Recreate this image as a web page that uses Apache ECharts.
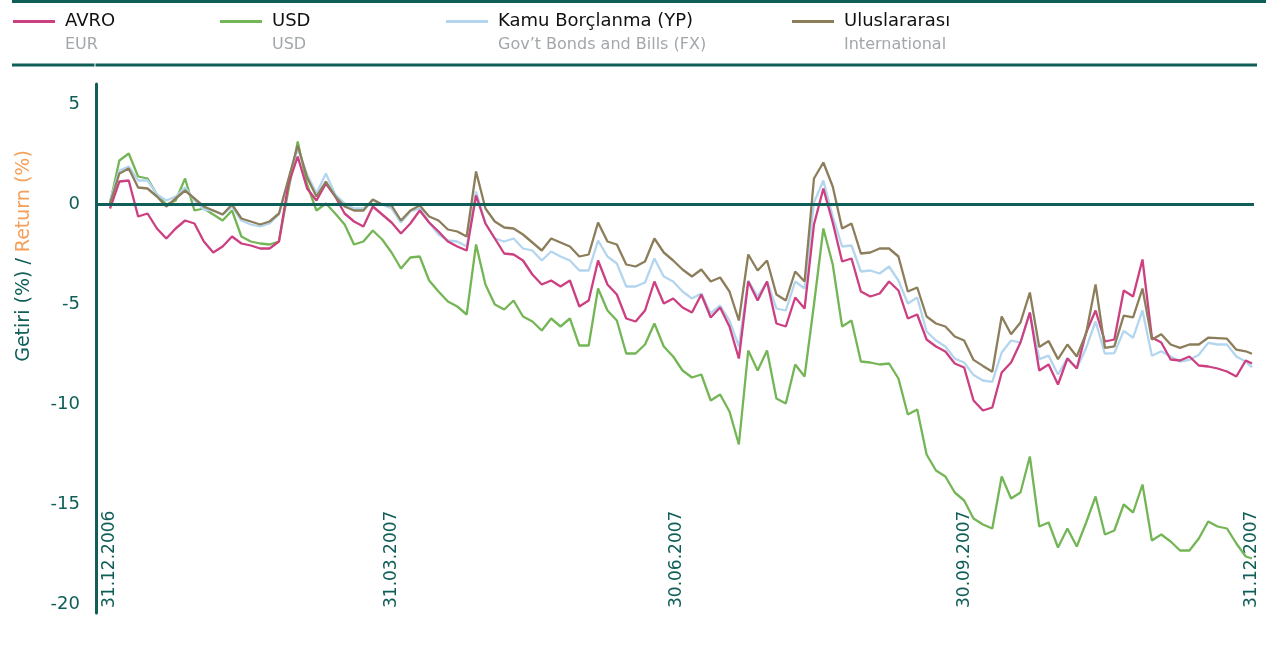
<!DOCTYPE html>
<html><head><meta charset="utf-8">
<script src="https://cdn.jsdelivr.net/npm/echarts@6/dist/echarts.min.js"></script>
<style>html,body{margin:0;padding:0;background:#fff}#c{width:1266px;height:648px}</style>
</head><body><div id="c"></div>
<script>
// ---- data ----
const seriesNames = ['AVRO', 'USD', 'Kamu Borçlanma (YP)', 'Uluslararası'];
const seriesSubtitles = ['EUR', 'USD', 'Gov\u2019t Bonds and Bills (FX)', 'International'];
const dateLabels = ['31.12.2006', '31.03.2007', '30.06.2007', '30.09.2007', '31.12.2007'];
const yTicks = [-20, -15, -10, -5, 0, 5];
const startDate = '31.12.2006';
const stepDays = 3;     // values sampled every 3 days, last value on 31.12.2007
const lastDay = 365;

const AVRO = [-0.2,1.15,1.2,-0.6,-0.45,-1.2,-1.7,-1.2,-0.8,-0.95,
-1.85,-2.4,-2.1,-1.6,-1.95,-2.05,-2.2,-2.2,-1.85,1.0,
2.4,0.8,0.2,1.05,0.4,-0.45,-0.85,-1.1,-0.1,-0.5,
-0.9,-1.45,-0.95,-0.3,-0.9,-1.35,-1.85,-2.1,-2.3,0.45,
-0.95,-1.7,-2.45,-2.5,-2.8,-3.5,-4.0,-3.8,-4.1,-3.8,
-5.1,-4.8,-2.8,-4.0,-4.5,-5.7,-5.85,-5.3,-3.85,-4.95,
-4.7,-5.15,-5.4,-4.5,-5.65,-5.15,-6.1,-7.7,-3.85,-4.8,
-3.85,-5.95,-6.1,-4.65,-5.2,-1.0,0.8,-0.9,-2.85,-2.7,
-4.35,-4.6,-4.45,-3.85,-4.3,-5.7,-5.5,-6.75,-7.1,-7.35,
-7.95,-8.15,-9.8,-10.3,-10.15,-8.4,-7.9,-6.9,-5.4,-8.3,
-8.0,-9.0,-7.7,-8.2,-6.4,-5.3,-6.85,-6.75,-4.3,-4.6,
-2.75,-6.65,-6.9,-7.75,-7.8,-7.6,-8.05,-8.1,-8.2,-8.35,
-8.6,-7.8,-7.95];

const USD = [0.05,2.2,2.55,1.4,1.3,0.5,0.0,0.2,1.3,-0.3,
-0.2,-0.5,-0.8,-0.3,-1.6,-1.85,-1.95,-2.0,-1.85,0.7,
3.15,1.0,-0.3,0.05,-0.45,-1.0,-2.0,-1.85,-1.3,-1.75,
-2.4,-3.2,-2.65,-2.6,-3.8,-4.35,-4.85,-5.1,-5.5,-2.0,
-4.0,-5.0,-5.25,-4.8,-5.6,-5.85,-6.3,-5.7,-6.1,-5.7,
-7.05,-7.05,-4.2,-5.3,-5.8,-7.45,-7.45,-7.0,-5.95,-7.1,
-7.6,-8.3,-8.65,-8.5,-9.8,-9.5,-10.35,-12.0,-7.3,-8.3,
-7.3,-9.7,-9.95,-8.0,-8.6,-5.0,-1.2,-3.0,-6.1,-5.8,
-7.85,-7.9,-8.0,-7.95,-8.7,-10.5,-10.25,-12.5,-13.3,-13.6,
-14.4,-14.8,-15.7,-16.0,-16.2,-13.6,-14.7,-14.4,-12.6,-16.1,
-15.9,-17.15,-16.2,-17.1,-15.9,-14.6,-16.5,-16.3,-15.0,-15.4,
-14.0,-16.8,-16.5,-16.85,-17.3,-17.3,-16.7,-15.85,-16.1,-16.2,
-16.95,-17.6,-17.7];

const KAMU = [0.2,1.7,1.9,1.2,1.2,0.5,0.2,0.4,0.85,0.2,
-0.25,-0.3,-0.5,-0.1,-0.8,-1.0,-1.1,-0.95,-0.5,1.2,
2.8,1.5,0.55,1.55,0.5,0.05,-0.2,-0.2,0.2,0.0,
-0.2,-0.9,-0.35,-0.2,-0.9,-1.5,-1.8,-1.85,-2.1,0.65,
-0.95,-1.7,-1.85,-1.7,-2.2,-2.3,-2.8,-2.35,-2.6,-2.8,
-3.3,-3.3,-1.8,-2.6,-2.95,-4.1,-4.1,-3.9,-2.7,-3.6,
-3.85,-4.35,-4.7,-4.45,-5.45,-5.05,-5.8,-7.1,-3.8,-4.6,
-3.85,-5.2,-5.3,-3.85,-4.2,0.1,1.2,-0.6,-2.1,-2.05,
-3.35,-3.3,-3.45,-3.1,-3.8,-4.95,-4.65,-6.35,-6.8,-7.1,
-7.7,-7.9,-8.53,-8.8,-8.87,-7.4,-6.8,-6.9,-5.4,-7.73,
-7.56,-8.5,-7.68,-8.19,-7.17,-5.85,-7.46,-7.43,-6.32,-6.66,
-5.3,-7.56,-7.34,-7.6,-7.85,-7.77,-7.51,-6.92,-7.0,-7.0,
-7.6,-7.85,-8.14];

const ULUSLARARASI = [0.05,1.55,1.8,0.85,0.8,0.4,-0.1,0.3,0.7,0.3,
-0.1,-0.3,-0.5,0.0,-0.7,-0.85,-1.0,-0.85,-0.45,1.25,
2.95,1.35,0.4,1.15,0.4,-0.1,-0.3,-0.3,0.25,0.0,
-0.05,-0.8,-0.3,-0.05,-0.6,-0.8,-1.25,-1.35,-1.6,1.65,
-0.2,-0.85,-1.15,-1.2,-1.5,-1.9,-2.3,-1.7,-1.9,-2.1,
-2.6,-2.5,-0.9,-1.85,-2.0,-3.0,-3.1,-2.85,-1.7,-2.4,
-2.8,-3.25,-3.6,-3.25,-3.85,-3.65,-4.35,-5.8,-2.5,-3.3,
-2.8,-4.5,-4.8,-3.35,-3.85,1.3,2.1,0.9,-1.2,-0.95,
-2.45,-2.4,-2.2,-2.2,-2.6,-4.35,-4.15,-5.6,-5.95,-6.1,
-6.6,-6.8,-7.77,-8.07,-8.36,-5.6,-6.49,-5.9,-4.4,-7.12,
-6.83,-7.73,-7.0,-7.6,-6.44,-4.0,-7.17,-7.09,-5.56,-5.64,
-4.2,-6.75,-6.49,-7.0,-7.17,-7.0,-7.0,-6.66,-6.68,-6.71,
-7.26,-7.34,-7.46];

// ---- helpers ----
const DAY = 86400000;
function parseDate(s) { const p = s.split('.'); return Date.UTC(+p[2], +p[1] - 1, +p[0]); }
const t0 = parseDate(startDate);
function dayOf(s) { return Math.round((parseDate(s) - t0) / DAY); }
function fmtDay(d) {
  const dt = new Date(t0 + Math.round(d) * DAY);
  const dd = String(dt.getUTCDate()).padStart(2, '0');
  const mm = String(dt.getUTCMonth() + 1).padStart(2, '0');
  return dd + '.' + mm + '.' + dt.getUTCFullYear();
}
function xOf(i, n) { return i === n - 1 ? lastDay : i * stepDays; }
function toPairs(arr) { return arr.map((v, i) => [xOf(i, arr.length), v]); }

const TEAL = '#0f5e57';
const FONT = 'DejaVu Sans';
const colors = ['#cc3f80', '#74b556', '#b3d6ee', '#8d7e5b'];
const valueArrays = [AVRO, USD, KAMU, ULUSLARARASI];
const zOrder = [3, 2, 2, 4];
const legendLefts = [13, 220, 446, 792];

const chart = echarts.init(document.getElementById('c'), null, { renderer: 'canvas' });

const series = valueArrays.map((arr, i) => ({
  name: seriesNames[i],
  type: 'line',
  data: toPairs(arr),
  showSymbol: false,
  symbol: 'none',
  z: zOrder[i],
  lineStyle: { color: colors[i], width: 2.3 },
  itemStyle: { color: colors[i] },
  animation: false
}));
series[0].markLine = {
  silent: true,
  symbol: ['none', 'none'],
  label: { show: false },
  lineStyle: { color: TEAL, width: 3, type: 'solid' },
  data: [{ yAxis: 0 }],
  animation: false
};

const legends = seriesNames.map((n, i) => ({
  data: [n],
  left: legendLefts[i],
  top: 12.5,
  padding: 0,
  icon: 'rect',
  itemWidth: 42,
  itemHeight: 3,
  selectedMode: false,
  formatter: (name) => '{a|' + name + '}\n{b|' + seriesSubtitles[seriesNames.indexOf(name)] + '}',
  textStyle: {
    padding: [23, 0, 0, 5],
    fontFamily: FONT,
    rich: {
      a: { fontSize: 18, color: '#111111', lineHeight: 23, fontFamily: FONT },
      b: { fontSize: 16, color: '#a2a7ab', lineHeight: 23, fontFamily: FONT }
    }
  }
}));

chart.setOption({
  animation: false,
  backgroundColor: '#ffffff',
  grid: { left: 96, right: 12, top: 84, bottom: 35, containLabel: false },
  legend: legends,
  xAxis: {
    type: 'value',
    min: -4.47,
    max: 365.64,
    axisLine: { show: false, onZero: false },
    axisTick: { show: false },
    splitLine: { show: false },
    axisLabel: {
      inside: true,
      rotate: 90,
      margin: 5,
      color: TEAL,
      fontSize: 17,
      fontFamily: FONT,
      customValues: dateLabels.map(dayOf),
      formatter: (v) => fmtDay(v)
    }
  },
  yAxis: {
    type: 'value',
    min: -20.425,
    max: 6.025,
    axisLine: { show: true, onZero: false, lineStyle: { color: TEAL, width: 3 } },
    axisTick: { show: false },
    splitLine: { show: false },
    axisLabel: {
      customValues: yTicks,
      color: TEAL,
      fontSize: 18,
      fontFamily: FONT,
      margin: 16
    }
  },
  graphic: [
    { type: 'rect', left: 12, top: 0, shape: { width: 1254, height: 3 }, style: { fill: TEAL }, silent: true },
    { type: 'rect', left: 12, top: 63.5, shape: { width: 82.5, height: 3 }, style: { fill: TEAL }, silent: true },
    { type: 'rect', left: 95.5, top: 63.5, shape: { width: 1161.5, height: 3 }, style: { fill: TEAL }, silent: true },
    {
      type: 'text',
      x: 24, y: 256,
      rotation: Math.PI / 2,
      silent: true,
      style: {
        text: '{a|Getiri (%) / }{b|Return (%)}',
        align: 'center',
        verticalAlign: 'middle',
        rich: {
          a: { fill: TEAL, fontSize: 19, fontFamily: FONT },
          b: { fill: '#f5a05a', fontSize: 19, fontFamily: FONT }
        }
      }
    }
  ],
  series: series
});
</script>
</body></html>
